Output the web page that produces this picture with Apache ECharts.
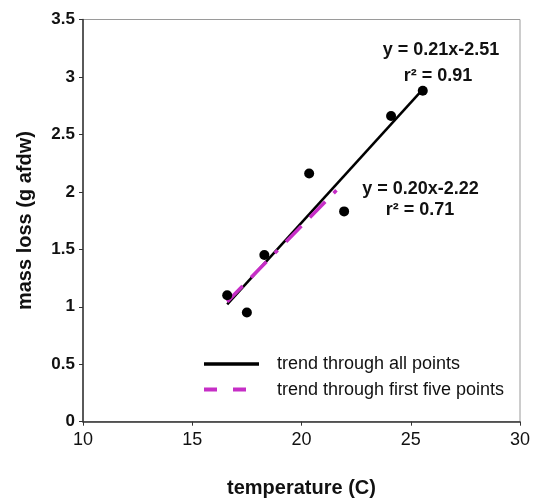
<!DOCTYPE html>
<html>
<head>
<meta charset="utf-8">
<script src="https://cdn.jsdelivr.net/npm/echarts@6/dist/echarts.min.js"></script>
<style>html,body{margin:0;padding:0;background:#fff;}#c{width:533px;height:500px;}</style>
</head>
<body>
<div id="c"></div>
<script>
// data (sorted by temperature)
const temperature = [16.6, 17.5, 18.3, 20.35, 21.95, 24.1, 25.55];
const massLoss   = [1.10, 0.95, 1.45, 2.16, 1.83, 2.66, 2.88];
const xTicks = [10, 15, 20, 25, 30];
const yTicks = [0, 0.5, 1, 1.5, 2, 2.5, 3, 3.5];
const legendNames = ['trend through all points', 'trend through first five points'];
const eqAll = ['y = 0.21x-2.51', 'r\u00B2 = 0.91'];
const eqFive = ['y = 0.20x-2.22', 'r\u00B2 = 0.71'];

function fit(xs, ys) {
  const n = xs.length;
  const mx = xs.reduce((a, b) => a + b, 0) / n;
  const my = ys.reduce((a, b) => a + b, 0) / n;
  let sxx = 0, sxy = 0;
  for (let i = 0; i < n; i++) { sxx += (xs[i] - mx) ** 2; sxy += (xs[i] - mx) * (ys[i] - my); }
  const b = sxy / sxx, a = my - b * mx;
  const x0 = Math.min(...xs), x1 = Math.max(...xs);
  return [[x0, a + b * x0], [x1, a + b * x1]];
}
const lineAll = fit(temperature, massLoss);
const lineFive = fit(temperature.slice(0, 5), massLoss.slice(0, 5));
const points = temperature.map((t, i) => [t, massLoss[i]]);

const FONT = "'Liberation Sans', Arial, sans-serif";
const MAG = '#c62ec6';
const chart = echarts.init(document.getElementById('c'), null, {renderer: 'canvas'});
chart.setOption({
  animation: false,
  backgroundColor: '#fff',
  grid: {left: 83, right: 13, top: 19.5, bottom: 78.3, outerBoundsMode: 'none', containLabel: false,
         show: true, borderColor: '#9a9a9a', borderWidth: 1, backgroundColor: 'transparent'},
  xAxis: {
    type: 'value', min: xTicks[0], max: xTicks[xTicks.length - 1], interval: 5,
    name: 'temperature (C)', nameLocation: 'middle', nameGap: 57,
    nameTextStyle: {fontFamily: FONT, fontSize: 20, fontWeight: 'bold', color: '#111'},
    axisLine: {show: true, onZero: false, lineStyle: {color: '#333', width: 1.5}},
    axisTick: {show: true, length: 4, lineStyle: {color: '#333'}},
    axisLabel: {fontFamily: FONT, fontSize: 18, color: '#111', margin: 9},
    splitLine: {show: false}
  },
  yAxis: {
    type: 'value', min: yTicks[0], max: yTicks[yTicks.length - 1], interval: 0.5,
    name: 'mass loss (g afdw)', nameLocation: 'middle', nameGap: 48,
    nameTextStyle: {fontFamily: FONT, fontSize: 20, fontWeight: 'bold', color: '#111'},
    axisLine: {show: true, onZero: false, lineStyle: {color: '#333', width: 1.5}},
    axisTick: {show: true, length: 4, lineStyle: {color: '#333'}},
    axisLabel: {fontFamily: FONT, fontSize: 17, fontWeight: 'bold', color: '#111', margin: 8},
    splitLine: {show: false}
  },
  legend: {
    data: [
      {name: legendNames[0], lineStyle: {width: 3.5, color: '#000'}},
      {name: legendNames[1], lineStyle: {width: 4, color: MAG, type: [13, 16, 13, 14, 3, 40]}}
    ],
    orient: 'vertical', left: 202, top: 355, padding: 0,
    itemWidth: 55, itemHeight: 14, itemGap: 7.6,
    itemStyle: {opacity: 0},
    textStyle: {fontFamily: FONT, fontSize: 18, color: '#111', padding: [0, 0, 0, 13]}
  },
  series: [
    {name: legendNames[0], type: 'line', data: lineAll, symbol: 'none', z: 2,
     lineStyle: {color: '#000', width: 2.5}, itemStyle: {color: '#000'}},
    {name: legendNames[1], type: 'line', data: lineFive, symbol: 'none', z: 3,
     lineStyle: {color: MAG, width: 3.5, type: [22, 12, 22, 12, 4, 12]}, itemStyle: {color: MAG}},
    {name: 'points', type: 'scatter', data: points, symbol: 'circle', symbolSize: 10, z: 4,
     itemStyle: {color: '#000', opacity: 1}}
  ],
  graphic: [
    {type: 'text', x: 441, y: 50.5, style: {text: eqAll[0], fontFamily: FONT, fontSize: 18, fontWeight: 'bold', fill: '#111', align: 'center', verticalAlign: 'middle'}},
    {type: 'text', x: 438, y: 76, style: {text: eqAll[1], fontFamily: FONT, fontSize: 18, fontWeight: 'bold', fill: '#111', align: 'center', verticalAlign: 'middle'}},
    {type: 'text', x: 420.5, y: 189, style: {text: eqFive[0], fontFamily: FONT, fontSize: 18, fontWeight: 'bold', fill: '#111', align: 'center', verticalAlign: 'middle'}},
    {type: 'text', x: 420, y: 210, style: {text: eqFive[1], fontFamily: FONT, fontSize: 18, fontWeight: 'bold', fill: '#111', align: 'center', verticalAlign: 'middle'}}
  ]
});
</script>
</body>
</html>
